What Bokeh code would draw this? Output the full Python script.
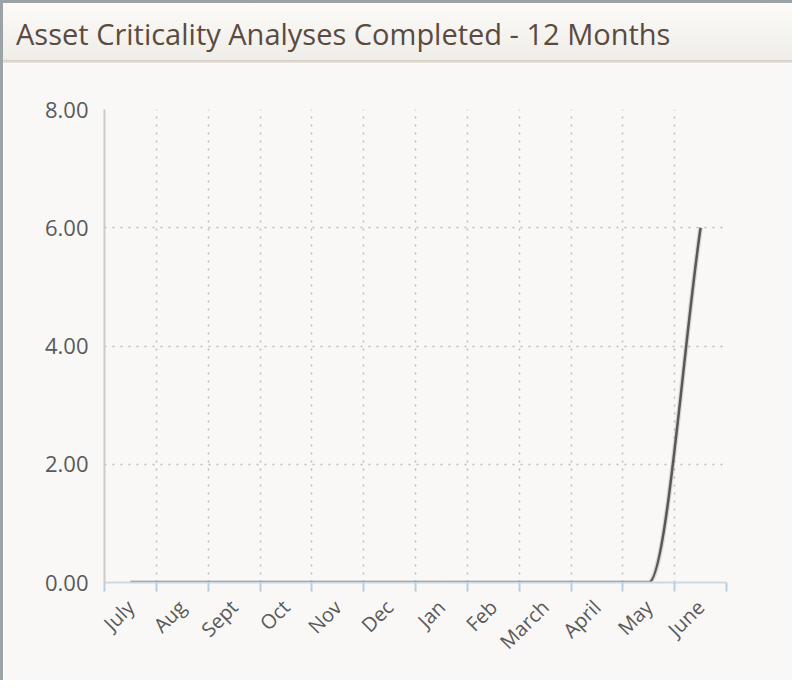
import math
from bokeh.plotting import figure
from bokeh.models import Div, FixedTicker, NumeralTickFormatter, ColumnDataSource
from bokeh.layouts import column, row
from bokeh.embed import file_html
from bokeh.resources import INLINE

# ---- data ----
title_text = "Asset Criticality Analyses Completed - 12 Months"
months = ["July", "Aug", "Sept", "Oct", "Nov", "Dec", "Jan", "Feb",
          "March", "April", "May", "June"]
completed = [0, 0, 0, 0, 0, 0, 0, 0, 0, 0, 0, 6]
y_ticks = [0, 2, 4, 6, 8]

# ---- derived positions ----
n = len(months)
xc = [i + 0.5 for i in range(n)]

# monotone tangents for a smooth curve through the data points
sec = [(completed[i + 1] - completed[i]) / (xc[i + 1] - xc[i]) for i in range(n - 1)]
tan = [0.0] * n
tan[0] = sec[0]
tan[-1] = sec[-1]
for i in range(1, n - 1):
    if sec[i - 1] * sec[i] <= 0:
        tan[i] = 0.0
    else:
        tan[i] = (sec[i - 1] + sec[i]) / 2
seg = dict(x0=[], y0=[], x1=[], y1=[], cx0=[], cy0=[], cx1=[], cy1=[])
for i in range(n - 1):
    h = xc[i + 1] - xc[i]
    seg["x0"].append(xc[i]); seg["y0"].append(completed[i])
    seg["x1"].append(xc[i + 1]); seg["y1"].append(completed[i + 1])
    seg["cx0"].append(xc[i] + h / 3); seg["cy0"].append(completed[i] + tan[i] * h / 3)
    seg["cx1"].append(xc[i + 1] - h / 3); seg["cy1"].append(completed[i + 1] - tan[i + 1] * h / 3)
src = ColumnDataSource(seg)

BG = "#f9f8f6"
FONT = "Open Sans"

p = figure(width=789, height=617, output_backend="svg", toolbar_location=None,
           x_range=(0, n), y_range=(0, 8),
           min_border_left=101, min_border_top=46, min_border_right=66, min_border_bottom=98,
           background_fill_color=BG, border_fill_color=BG, margin=0)
p.outline_line_color = None

# grid
p.xgrid.ticker = FixedTicker(ticks=list(range(1, n + 1)))
for g in (p.xgrid, p.ygrid):
    g.grid_line_color = "#bcbcbc"
    g.grid_line_dash = "2 6"
    g.grid_line_width = 1.5

# y axis
p.yaxis.ticker = FixedTicker(ticks=y_ticks)
p.yaxis.formatter = NumeralTickFormatter(format="0.00")
p.yaxis.major_tick_line_color = None
p.yaxis.minor_tick_line_color = None
p.yaxis.major_tick_out = 0
p.yaxis.major_label_standoff = 16
p.yaxis.axis_line_color = "#cccccc"
p.yaxis.axis_line_width = 2
p.yaxis.major_label_text_font = FONT
p.yaxis.major_label_text_font_size = "22px"
p.yaxis.major_label_text_color = "#5a5a5a"

# x axis: labels at category centers, tick marks at boundaries
p.xaxis.ticker = FixedTicker(ticks=xc, minor_ticks=list(range(0, n + 1)))
p.xaxis.major_label_overrides = {x: m for x, m in zip(xc, months)}
p.xaxis.major_tick_line_color = None
p.xaxis.major_tick_out = 0
p.xaxis.minor_tick_line_color = "#b9cde0"
p.xaxis.minor_tick_line_width = 2
p.xaxis.minor_tick_out = 9
p.xaxis.minor_tick_in = 0
p.xaxis.axis_line_color = "#cdd8e1"
p.xaxis.axis_line_width = 2
p.xaxis.major_label_orientation = math.pi / 4
p.xaxis.major_label_standoff = 12
p.xaxis.major_label_text_font = FONT
p.xaxis.major_label_text_font_size = "20px"
p.xaxis.major_label_text_color = "#5a5a5a"

# data line (shadow + line)
p.bezier(x0="x0", y0="y0", x1="x1", y1="y1", cx0="cx0", cy0="cy0", cx1="cx1", cy1="cy1",
         source=src, line_color="#000000", line_alpha=0.12, line_width=5)
p.bezier(x0="x0", y0="y0", x1="x1", y1="y1", cx0="cx0", cy0="cy0", cx1="cx1", cy1="cy1",
         source=src, line_color="#585858", line_width=2.5)

# frame pieces
left_border = Div(width=3, height=680, margin=0, styles={"background-color": "#9ca3a7"})
top_border = Div(width=789, height=3, margin=0, styles={"background-color": "#9ca3a7"})
header = Div(
    text=f'<div style="font-family:\'Open Sans\';font-size:29px;color:#5b4a40;'
         f'line-height:62px;padding-left:13px;white-space:nowrap;">{title_text}</div>',
    width=789, height=57, margin=0,
    styles={"background": "linear-gradient(#fcfbf8, #efede8)", "overflow": "hidden"})
sep = Div(width=789, height=3, margin=0,
          styles={"background": "linear-gradient(#d5cbc2, #e9e4de)"})

layout = row(left_border, column(top_border, header, sep, p, spacing=0, margin=0),
             spacing=0, margin=0)

open("out.html", "w").write(file_html(layout, INLINE))
